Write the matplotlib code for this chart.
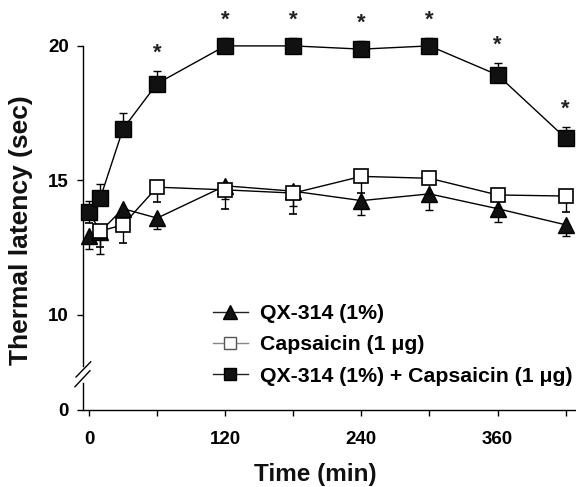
import numpy as np
import matplotlib.pyplot as plt
from matplotlib.lines import Line2D

plt.rcParams['font.family'] = ['Liberation Sans', 'DejaVu Sans']
plt.rcParams['font.weight'] = 'bold'

# time points (min)
times = [0, 10, 30, 60, 120, 180, 240, 300, 360, 420]

# QX-314 (1%)  - filled triangles, error below
qx = [12.95, 13.1, 13.95, 13.6, 14.8, 14.6, 14.25, 14.5, 13.95, 13.35]
qx_err = [0.5, 0.85, 0.4, 0.4, 0.5, 0.55, 0.55, 0.6, 0.48, 0.4]

# Capsaicin (1 ug) - open squares, error below
cap = [13.8, 13.12, 13.35, 14.75, 14.65, 14.53, 15.15, 15.08, 14.46, 14.42]
cap_err = [0.4, 0.6, 0.68, 0.55, 0.7, 0.77, 0.6, 0.6, 0.5, 0.6]

# QX-314 + Capsaicin - filled squares, error above
combo = [13.83, 14.35, 16.92, 18.6, 20.0, 20.0, 19.88, 20.0, 18.92, 16.57]
combo_err = [0.42, 0.53, 0.6, 0.48, 0.3, 0.3, 0.3, 0.3, 0.46, 0.43]

star_idx = [3, 4, 5, 6, 7, 8, 9]

labels = ['QX-314 (1%)', 'Capsaicin (1 \u03bcg)', 'QX-314 (1%) + Capsaicin (1 \u03bcg)']

# broken y axis: values below 10 are compressed
k = 0.3532
def fwd(y):
    y = np.asarray(y, dtype=float)
    return np.where(y >= 10, y, 10 - (10 - y) * k)
def inv(t):
    t = np.asarray(t, dtype=float)
    return np.where(t >= 10, t, 10 - (10 - t) / k)

fig = plt.figure(figsize=(5.76, 4.87), dpi=100)
ax = fig.add_axes([83/576, 77/487, 492/576, 405/487])
ax.set_yscale('function', functions=(fwd, inv))

zero = np.zeros(len(times))
# error caps of the plateau squares sit under the marker
ax.errorbar(times, qx, yerr=[qx_err, zero], fmt='-^', color='black', ms=11,
            mfc='#111111', mec='black', mew=1, lw=1, ecolor='black', elinewidth=1,
            capsize=3, capthick=1, zorder=3, clip_on=False)
ax.errorbar(times, cap, yerr=[cap_err, zero], fmt='-s', color='black', ms=10.5,
            mfc='white', mec='black', mew=1.2, lw=1, ecolor='black', elinewidth=1,
            capsize=3, capthick=1, zorder=4, clip_on=False)
ax.errorbar(times, combo, yerr=[zero, combo_err], fmt='-s', color='black', ms=11,
            mfc='#111111', mec='black', mew=1, lw=1, ecolor='black', elinewidth=1,
            capsize=3, capthick=1, zorder=5, clip_on=False)

for i in star_idx:
    ax.annotate('*', (times[i], combo[i] + combo_err[i]), xytext=(0, 12.5),
                textcoords='offset points', ha='center', va='center',
                fontsize=16, fontweight='bold', color='#222222')

ax.set_xlim(-5.3, 428.2)
ax.set_ylim(0, 21.52)
ax.set_xticks(np.arange(0, 421, 60))
ax.set_xticklabels(['0', '', '120', '', '240', '', '360', ''])
ax.set_yticks([0, 10, 15, 20])
ax.set_yticklabels(['0', '10', '15', '20'])
ax.tick_params(axis='both', direction='out', length=4, width=1, labelsize=13.5)
ax.tick_params(axis='x', pad=11)
ax.tick_params(axis='y', pad=6)

for s in ['top', 'right', 'left']:
    ax.spines[s].set_visible(False)
ax.spines['bottom'].set_linewidth(1)

# left spine drawn in two pieces with the break marks
top_frac = (410 - 46) / 405
ax.plot([0, 0], [0, 0.0667], transform=ax.transAxes, color='black', lw=1, clip_on=False)
ax.plot([0, 0], [0.1086, top_frac], transform=ax.transAxes, color='black', lw=1, clip_on=False)
ax.plot([-0.0142, 0.0157], [0.0815, 0.119], transform=ax.transAxes, color='black', lw=1, clip_on=False)
ax.plot([-0.0163, 0.0142], [0.0575, 0.097], transform=ax.transAxes, color='black', lw=1, clip_on=False)

fig.text(21/576, 1 - 230/487, 'Thermal latency (sec)', rotation=90, ha='center',
         va='center', fontsize=19, fontweight='bold', color='#111111')
fig.text(315/576, 1 - 474/487, 'Time (min)', ha='center', va='center',
         fontsize=17.5, fontweight='bold', color='#111111')

handles = [
    Line2D([], [], color='#222222', lw=1, marker='^', ms=9.5, mfc='#111111', mec='black'),
    Line2D([], [], color='#888888', lw=1, marker='s', ms=8.5, mfc='white', mec='#555555'),
    Line2D([], [], color='#222222', lw=1, marker='s', ms=9, mfc='#111111', mec='black'),
]
leg = ax.legend(handles, labels, loc='upper left', bbox_to_anchor=(0.246, 0.282),
                frameon=False, fontsize=15.3, handlelength=1.65, handletextpad=0.57,
                labelspacing=0.57, borderaxespad=0)

fig.savefig('out.png', dpi=100)
